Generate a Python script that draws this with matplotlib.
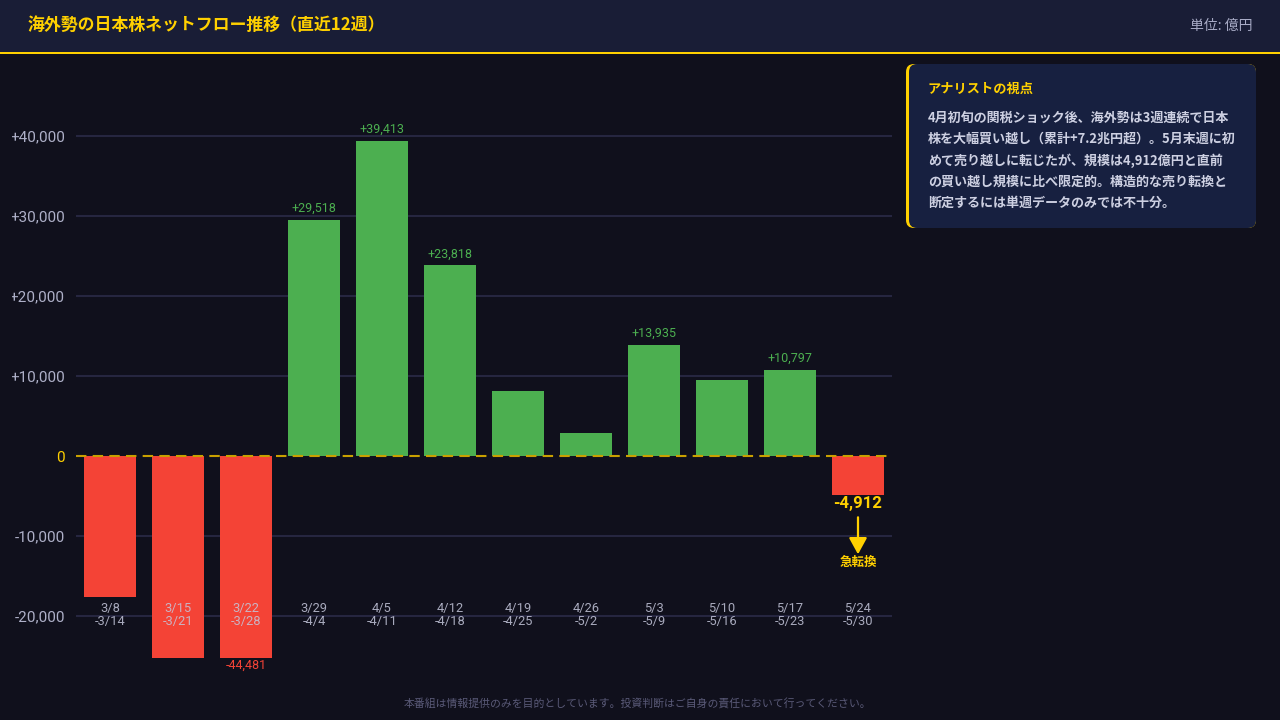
import matplotlib
matplotlib.use("Agg")
import matplotlib.pyplot as plt
from matplotlib.patches import Rectangle, FancyBboxPatch
from matplotlib.transforms import IdentityTransform, offset_copy

plt.rcParams['font.family'] = ['Noto Sans CJK JP', 'DejaVu Sans']
NUM_FONT = ['Roboto', 'DejaVu Sans']

# ---- data ----------------------------------------------------------------
weeks_start = ["3/8", "3/15", "3/22", "3/29", "4/5", "4/12",
               "4/19", "4/26", "5/3", "5/10", "5/17", "5/24"]
weeks_end = ["-3/14", "-3/21", "-3/28", "-4/4", "-4/11", "-4/18",
             "-4/25", "-5/2", "-5/9", "-5/16", "-5/23", "-5/30"]
net_flow = [-17600, -31000, -44481, 29518, 39413, 23818,
            8100, 2900, 13935, 9500, 10797, -4912]
show_value = [False, False, True, True, True, True,
              False, False, True, False, True, True]
y_ticks = [-20000, -10000, 0, 10000, 20000, 30000, 40000]

title = "海外勢の日本株ネットフロー推移（直近12週）"
unit = "単位: 億円"
box_title = "アナリストの視点"
box_lines = ["4月初旬の関税ショック後、海外勢は3週連続で日本",
             "株を大幅買い越し（累計+7.2兆円超）。5月末週に初",
             "めて売り越しに転じたが、規模は4,912億円と直前",
             "の買い越し規模に比べ限定的。構造的な売り転換と",
             "断定するには単週データのみでは不十分。"]
footer = "本番組は情報提供のみを目的としています。投資判断はご自身の責任において行ってください。"
callout = "急転換"

# ---- colours ---------------------------------------------------------------
BG = "#10101c"
HEADER = "#191d36"
YELLOW = "#FFD000"
GREEN = "#4caf50"
RED = "#f44336"
GRID = "#262640"
TICK = "#aeb0c8"

W, H = 1280, 720
fig = plt.figure(figsize=(W / 100, H / 100), dpi=100, facecolor=BG)


def px(x, y):
    # pixel (from top-left) -> figure fraction
    return x / W, 1 - y / H


# header band
fig.add_artist(Rectangle((0, H - 52), W, 52, transform=IdentityTransform(),
                         facecolor=HEADER, edgecolor="none", zorder=0))
fig.add_artist(Rectangle((0, H - 53.5), W, 2, transform=IdentityTransform(),
                         facecolor=YELLOW, edgecolor="none", zorder=1))
fig.text(*px(28, 25), title, color=YELLOW, fontsize=12.2, fontweight="bold",
         ha="left", va="center")
fig.text(*px(1252, 26), unit, color="#a8abc6", fontsize=10,
         ha="right", va="center")

# ---- main chart ------------------------------------------------------------
ax = fig.add_axes([76 / W, 1 - 657.6 / H, 816 / W, 601.6 / H])
ax.set_facecolor(BG)
x = list(range(len(net_flow)))
colors = [GREEN if v >= 0 else RED for v in net_flow]
ax.bar(x, net_flow, width=0.765, color=colors, zorder=2)
ax.set_xlim(-0.5, len(net_flow) - 0.5)
ax.set_ylim(-25200, 50000)

ax.set_yticks(y_ticks)
ax.set_yticklabels([("+{:,}".format(t) if t > 0 else "{:,}".format(t))
                    for t in y_ticks], family=NUM_FONT)
ax.tick_params(axis="y", length=0, pad=8, labelsize=11, labelcolor=TICK)
ax.get_yticklabels()[y_ticks.index(0)].set_color(YELLOW)
ax.set_xticks([])
for s in ax.spines.values():
    s.set_visible(False)
for t in y_ticks:
    if t == 0:
        ax.axhline(0, color="#c9a000", lw=1.5, ls=(0, (5, 3)), zorder=3)
    else:
        ax.axhline(t, color=GRID, lw=1.5, zorder=1)

# week labels
for i in x:
    ax.text(i, 0.0716, weeks_start[i] + "\n" + weeks_end[i],
            transform=ax.get_xaxis_transform(), ha="center", va="center",
            fontsize=9.3, color="#c4c6da", alpha=0.85, linespacing=1.0,
            family=NUM_FONT, zorder=4)

# value labels
for i, v in enumerate(net_flow):
    if not show_value[i]:
        continue
    if i == len(net_flow) - 1:
        ax.annotate("{:,}".format(v), (i, v), xytext=(0, -1),
                    textcoords="offset pixels", ha="center", va="top",
                    fontsize=12, fontweight="bold", color=YELLOW,
                    family=NUM_FONT, annotation_clip=False)
    elif v < 0:
        ax.annotate("{:,}".format(v), (i, ax.get_ylim()[0]), xytext=(0, -1),
                    textcoords="offset pixels", ha="center", va="top",
                    fontsize=9, color=RED, family=NUM_FONT,
                    annotation_clip=False)
    else:
        ax.annotate("+{:,}".format(v), (i, v), xytext=(0, 5),
                    textcoords="offset pixels", ha="center", va="bottom",
                    fontsize=9, color=GREEN, family=NUM_FONT,
                    annotation_clip=False)

# callout arrow under the last bar
last = len(net_flow) - 1
ax.annotate("", xy=(last, net_flow[last]),
            xycoords=offset_copy(ax.transData, fig=fig, y=-59, units="dots"),
            xytext=(last, net_flow[last]),
            textcoords=offset_copy(ax.transData, fig=fig, y=-22, units="dots"),
            arrowprops=dict(arrowstyle="-|>,head_length=1.0,head_width=0.55",
                            color=YELLOW, lw=1.6, shrinkA=0, shrinkB=0))
ax.annotate(callout, (last, net_flow[last]), xytext=(0, -67),
            textcoords="offset pixels", ha="center", va="center",
            fontsize=9, fontweight="bold", color=YELLOW,
            annotation_clip=False)

# left edge of the canvas trims the tick labels slightly
fig.add_artist(Rectangle((0, 60), 12, 560, transform=IdentityTransform(),
                         facecolor=BG, edgecolor="none", zorder=10))

# ---- analyst box -----------------------------------------------------------
fig.add_artist(FancyBboxPatch((906, H - 228), 350, 164,
                              boxstyle="round,pad=0,rounding_size=8",
                              transform=IdentityTransform(),
                              facecolor=YELLOW, edgecolor="none", zorder=1))
fig.add_artist(FancyBboxPatch((909, H - 228), 347, 164,
                              boxstyle="round,pad=0,rounding_size=8",
                              transform=IdentityTransform(),
                              facecolor="#172040", edgecolor="none", zorder=2))
fig.text(*px(928, 89), box_title, color=YELLOW, fontsize=9.5,
         fontweight="bold", ha="left", va="center", zorder=3)
fig.text(*px(928, 111), "\n".join(box_lines), color="#cdd0e2", fontsize=9.4,
         fontweight="bold", ha="left", va="top", linespacing=1.64, zorder=3)

# footer
fig.text(*px(638, 704), footer, color="#5a5a78", fontsize=7.8,
         ha="center", va="center")

fig.savefig("out.png", dpi=100, facecolor=BG)
